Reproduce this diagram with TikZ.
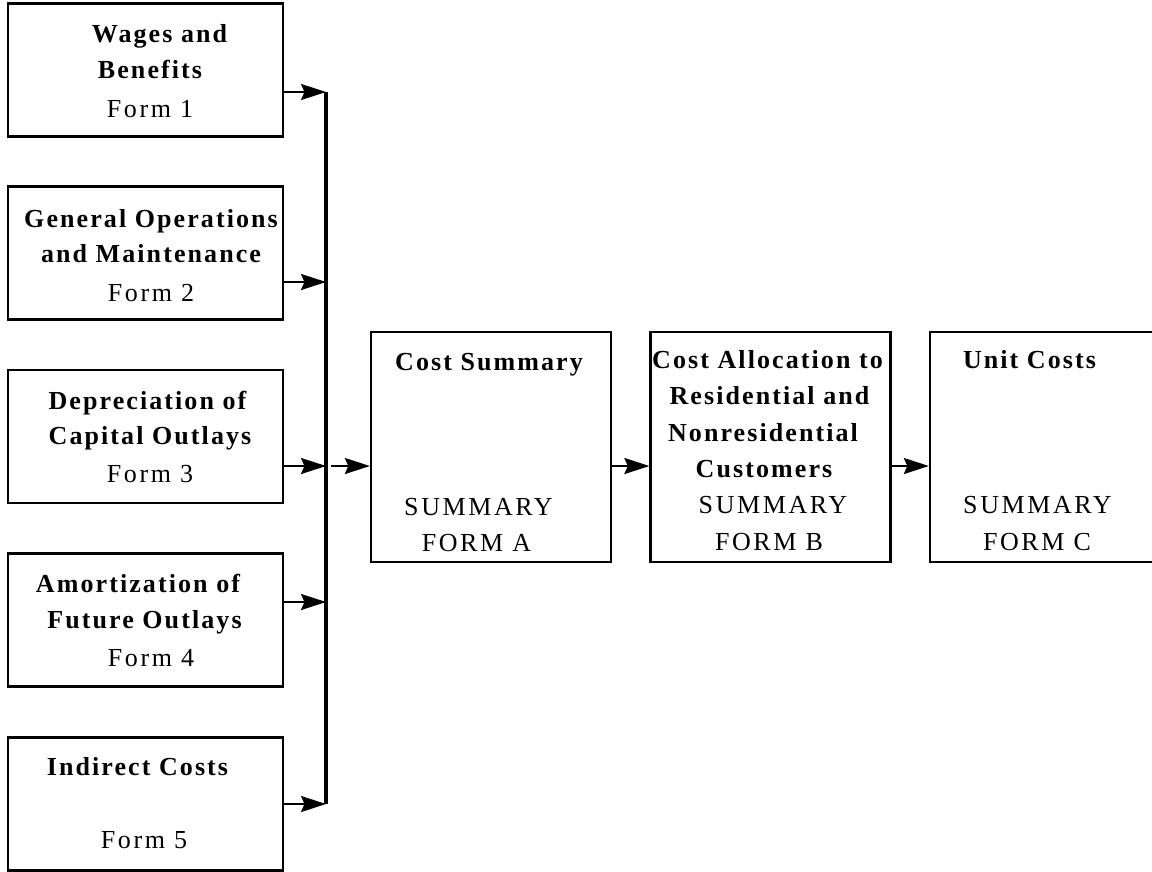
\documentclass[tikz,border=0pt]{standalone}
\usepackage{fontspec}
\setmainfont{Liberation Serif}
\newfontfamily\boxfont[LetterSpace=10]{Liberation Serif}
\newfontfamily\headfont[LetterSpace=8]{Liberation Serif}
\usetikzlibrary{arrows.meta}

\tikzset{
  formbox/.style={draw, line width=1.3pt, minimum width=55mm, minimum height=26.6mm, inner sep=0pt},
  sumbox/.style={draw, line width=1.3pt, minimum width=48mm, minimum height=46mm, inner sep=0pt},
  head/.style={anchor=base, inner sep=0pt, font=\fontsize{14.8pt}{17pt}\headfont\bfseries},
  plain/.style={anchor=base, inner sep=0pt, font=\fontsize{14.8pt}{17pt}\boxfont},
  feed/.style={-{Stealth[length=5mm,width=3.2mm,inset=0.7mm]}, line width=1.2pt},
  bus/.style={line width=2.2pt}
}

\begin{document}
\begin{tikzpicture}[x=0.2mm, y=-0.2mm]
\useasboundingbox (0,0) rectangle (1152,871);

\node[formbox] (f1) at (145.5,70) {};
\node[formbox] (f2) at (145.5,253) {};
\node[formbox] (f3) at (145.5,436.5) {};
\node[formbox] (f4) at (145.5,620) {};
\node[formbox] (f5) at (145.5,804) {};

\node[sumbox] (sa) at (491,447) {};
\node[sumbox] (sb) at (770.5,447) {};
\node[sumbox, minimum width=45.2mm] (sc) at (1043,447) {};

\node[head] (w1) at (159.5,42) {Wages and};
\node[head] (w2) at (150,78) {Benefits};
\node[plain] (w3) at (150,117) {Form 1};

\node[head] (g1) at (151,227) {General Operations};
\node[head] (g2) at (151,262) {and Maintenance};
\node[plain] (g3) at (151,301) {Form 2};

\node[head] (d1) at (147.5,409) {Depreciation of};
\node[head] (d2) at (150,444) {Capital Outlays};
\node[plain] (d3) at (150,482) {Form 3};

\node[head] (m1) at (138,592) {Amortization of};
\node[head] (m2) at (144.5,628) {Future Outlays};
\node[plain] (m3) at (151,666) {Form 4};

\node[head] (i1) at (137.5,775) {Indirect Costs};
\node[plain] (i2) at (144,848) {Form 5};

\node[head] (a1) at (489,370) {Cost Summary};
\node[plain] (a2) at (478.5,515) {SUMMARY};
\node[plain] (a3) at (476.5,551) {FORM A};

\node[head] (c1) at (767.5,368) {Cost Allocation to};
\node[head] (c2) at (769.5,404) {Residential and};
\node[head] (c3) at (763,441) {Nonresidential};
\node[head] (c4) at (764,477) {Customers};
\node[plain] (c5) at (773,513) {SUMMARY};
\node[plain] (c6) at (769,550) {FORM B};

\node[head] (u1) at (1029.5,368) {Unit Costs};
\node[plain] (u2) at (1037.5,513) {SUMMARY};
\node[plain] (u3) at (1037,550) {FORM C};

\coordinate (b1) at (326,92);
\coordinate (b2) at (326,282);
\coordinate (b3) at (326,466);
\coordinate (b4) at (326,602);
\coordinate (b5) at (326,804);

\draw[bus] (b1) -- (b5);
\draw[feed] (f1.east |- b1) -- (b1);
\draw[feed] (f2.east |- b2) -- (b2);
\draw[feed] (f3.east |- b3) -- (b3);
\draw[feed] (f4.east |- b4) -- (b4);
\draw[feed] (f5.east |- b5) -- (b5);

\draw[feed] ([xshift=1mm]b3) -- (sa.west |- b3);
\draw[feed] (sa.east |- b3) -- (sb.west |- b3);
\draw[feed] (sb.east |- b3) -- (sc.west |- b3);
\end{tikzpicture}
\end{document}
